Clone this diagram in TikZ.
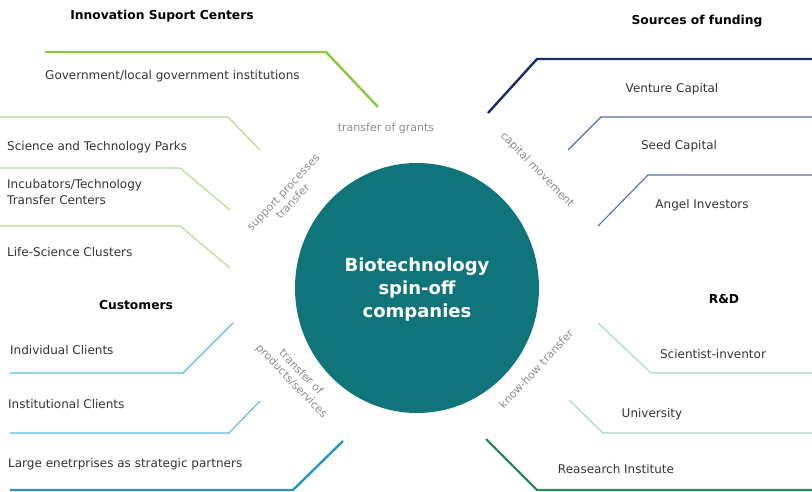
\documentclass[tikz,border=0pt]{standalone}
\usepackage{fontspec}
\setmainfont{DejaVu Sans}
\usetikzlibrary{shapes.geometric}
\definecolor{core}{HTML}{10757A}
\definecolor{txt}{HTML}{333333}
\definecolor{flowgray}{HTML}{8C8C8C}
\definecolor{grnA}{HTML}{8DC63F}
\definecolor{grnB}{HTML}{B8D58A}
\definecolor{navyA}{HTML}{1B2A6B}
\definecolor{navyB}{HTML}{5B6BA8}
\definecolor{skyA}{HTML}{2A93C8}
\definecolor{skyB}{HTML}{5BB8E0}
\definecolor{rdA}{HTML}{2E8B57}
\definecolor{rdB}{HTML}{A8D5C8}
\begin{document}
\begin{tikzpicture}[x=1pt,y=-1pt,
  lbl/.style={inner sep=0pt, text=txt, font=\fontsize{12}{17}\selectfont},
  hdr/.style={inner sep=0pt, text=black, font=\fontsize{12.3}{14}\selectfont\bfseries},
  flowlbl/.style={inner sep=0pt, text=flowgray, font=\fontsize{11}{13}\selectfont, align=center},
  major/.style={line width=2.4pt},
  minor/.style={line width=1.1pt}]
\useasboundingbox (0,0) rectangle (812,492);

% central circle
\node[ellipse, fill=core, minimum width=244pt, minimum height=250pt, inner sep=0pt] (core) at (417,288) {};
\node[text=white, align=center, font=\fontsize{18}{23}\selectfont\bfseries] (coretext) at (417,290) {Biotechnology\\spin-off\\companies};

% Innovation Support Centers
\node[hdr, anchor=base] (hInn) at (162,20) {Innovation Suport Centers};
\draw[major, grnA] (45,52) -- (326,52) -- (378,107);
\node[lbl, anchor=base west] (gov) at (45,80) {Government/local government institutions};
\draw[minor, grnB] (0,117) -- (228,117) -- (260,150);
\node[lbl, anchor=base west] (stp) at (7,151) {Science and Technology Parks};
\draw[minor, grnB] (0,168) -- (180,168) -- (230,210);
\node[lbl, anchor=base west, align=left] (inc) at (7,205) {Incubators/Technology\\Transfer Centers};
\draw[minor, grnB] (0,226) -- (180,226) -- (230,268);
\node[lbl, anchor=base west] (lsc) at (7,256) {Life-Science Clusters};

% Sources of funding
\node[hdr, anchor=base] (hSrc) at (697,24.5) {Sources of funding};
\draw[major, navyA] (488,113) -- (537,59) -- (812,59);
\node[lbl, anchor=base] (vc) at (672,92.5) {Venture Capital};
\draw[minor, navyB] (568,150) -- (601,117) -- (812,117);
\node[lbl, anchor=base] (sc) at (679,149.5) {Seed Capital};
\draw[minor, navyB] (598,226) -- (648,175) -- (812,175);
\node[lbl, anchor=base] (ai) at (702,208.5) {Angel Investors};

% Customers
\node[hdr, anchor=base] (hCus) at (136,309.5) {Customers};
\draw[minor, skyB] (10,373) -- (183,373) -- (233,323);
\node[lbl, anchor=base west] (ic) at (10,354.5) {Individual Clients};
\draw[minor, skyB] (10,433) -- (229,433) -- (260,401);
\node[lbl, anchor=base west] (inst) at (8,408.5) {Institutional Clients};
\draw[major, skyA] (10,490) -- (293,490) -- (343,441);
\node[lbl, anchor=base west] (lep) at (8,467) {Large enetrprises as strategic partners};

% R&D
\node[hdr, anchor=base] (hRD) at (724,303.5) {R\&D};
\draw[minor, rdB] (598,323) -- (651,373) -- (812,373);
\node[lbl, anchor=base] (si) at (713,358.5) {Scientist-inventor};
\draw[minor, rdB] (569,400) -- (603,433) -- (812,433);
\node[lbl, anchor=base] (uni) at (652,417.5) {University};
\draw[major, rdA] (486,439) -- (537,490) -- (812,490);
\node[lbl, anchor=base] (ri) at (616,473.5) {Reasearch Institute};

% flow labels
\node[flowlbl] (fGrant) at (386,128) {transfer of grants};
\node[flowlbl, rotate=47] (fSupp) at (288,197) {support processes\\transfer};
\node[flowlbl, rotate=-46] (fCap) at (537,170) {capital movement};
\node[flowlbl, rotate=-46] (fProd) at (296,377) {transfer of\\products/services};
\node[flowlbl, rotate=47] (fKnow) at (536,369) {know-how transfer};
\end{tikzpicture}
\end{document}
